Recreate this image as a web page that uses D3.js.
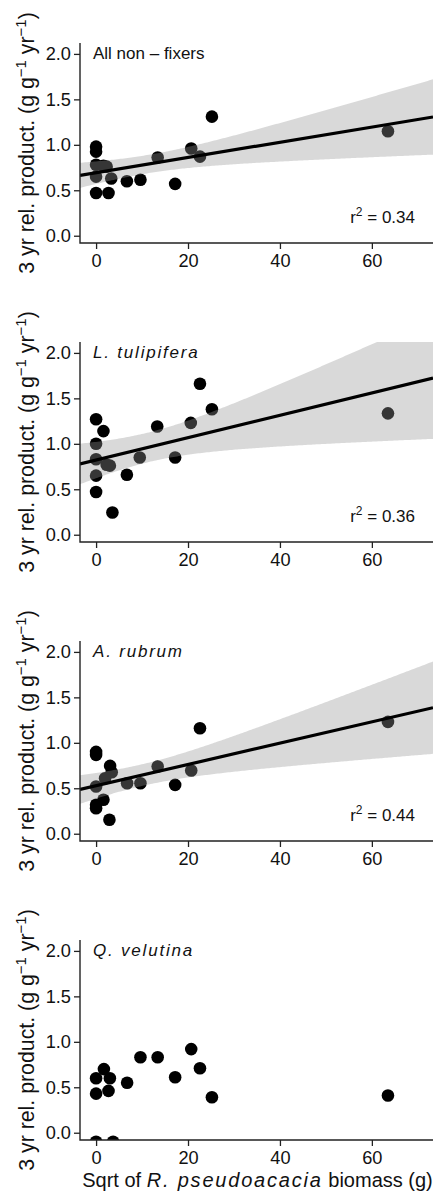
<!DOCTYPE html>
<html>
<head>
<meta charset="utf-8">
<script src="https://cdn.jsdelivr.net/npm/d3@7"></script>
<style>
  body { margin: 0; background: #fff; }
  svg { display: block; }
  text { font-family: "Liberation Sans", Arial, Helvetica, sans-serif; fill: #111; }
</style>
</head>
<body>
<script>
// Square root of R. pseudoacacia biomass (g) and 3-yr relative productivity per group
const sqrtBiomassAll = [0, 0, 0, 0, 0, 1.6, 2.3, 2.7, 3.3, 6.7, 9.65, 13.4, 17.2, 20.7, 22.6, 25.2, 63.5];
const productAll     = [0.98, 0.925, 0.78, 0.65, 0.47, 0.77, 0.76, 0.47, 0.63, 0.60, 0.615, 0.86, 0.57, 0.96, 0.87, 1.31, 1.15];

const sqrtBiomassTulip = [0, 1.6, 0, 0, 2.3, 3.0, 0, 6.7, 9.5, 0, 3.55, 13.3, 17.2, 20.6, 22.6, 25.2, 63.5];
const productTulip     = [1.27, 1.14, 1.0, 0.83, 0.77, 0.76, 0.65, 0.66, 0.85, 0.47, 0.245, 1.19, 0.85, 1.23, 1.66, 1.38, 1.335];

const sqrtBiomassRubrum = [0, 0, 0, 0, 0, 1.6, 1.96, 2.9, 3.05, 3.4, 6.75, 9.65, 13.4, 17.2, 20.7, 22.6, 63.5];
const productRubrum     = [0.90, 0.867, 0.52, 0.318, 0.28, 0.373, 0.61, 0.154, 0.746, 0.677, 0.556, 0.556, 0.74, 0.537, 0.695, 1.16, 1.23];

const sqrtBiomassVelutina = [0, 0, 0, 1.7, 3.0, 2.7, 3.7, 6.75, 9.65, 13.4, 17.2, 20.7, 22.6, 25.2, 63.5];
const productVelutina     = [0.60, 0.43, -0.10, 0.70, 0.60, 0.46, -0.10, 0.55, 0.83, 0.83, 0.61, 0.92, 0.71, 0.39, 0.41];

const panelTitles = ["All non \u2013 fixers", "L. tulipifera", "A. rubrum", "Q. velutina"];
const titleItalic = [false, true, true, true];
const r2Labels    = ["0.34", "0.36", "0.44", null];
const showFit     = [true, true, true, false];

const xTicks = [0, 20, 40, 60];
const yTicks = [0, 0.5, 1.0, 1.5, 2.0];
const xTitleParts = [["Sqrt of ", false], ["R. pseudoacacia", true], [" biomass (g)", false]];

const panels = [
  [sqrtBiomassAll, productAll],
  [sqrtBiomassTulip, productTulip],
  [sqrtBiomassRubrum, productRubrum],
  [sqrtBiomassVelutina, productVelutina]
];

const W = 442, H = 1192;
const plotLeft = 80, plotRight = 433, plotH = 200, firstTop = 43, panelStep = 299;

const svg = d3.select("body").append("svg").attr("width", W).attr("height", H);

// two-sided 95% t quantiles by degrees of freedom
const tTable = {10: 2.228, 11: 2.201, 12: 2.179, 13: 2.160, 14: 2.145, 15: 2.131, 16: 2.120, 17: 2.110, 18: 2.101};

function olsFit(xs, ys) {
  const n = xs.length;
  const mx = d3.mean(xs), my = d3.mean(ys);
  let sxx = 0, sxy = 0, syy = 0;
  for (let i = 0; i < n; i++) {
    sxx += (xs[i] - mx) ** 2;
    sxy += (xs[i] - mx) * (ys[i] - my);
    syy += (ys[i] - my) ** 2;
  }
  const b = sxy / sxx, a = my - b * mx;
  const s = Math.sqrt((syy - b * sxy) / (n - 2));
  const t = tTable[n - 2] || 2.0;
  return {
    predict: x => a + b * x,
    half: x => t * s * Math.sqrt(1 / n + (x - mx) ** 2 / sxx)
  };
}

panels.forEach(([xs, ys], i) => {
  const top = firstTop + i * panelStep;
  const bottom = top + plotH;
  const x = d3.scaleLinear().domain([-3.5, 73.3]).range([plotLeft, plotRight]);
  const y = d3.scaleLinear().domain([-0.08, 2.12]).range([bottom, top]);

  const g = svg.append("g");
  const clipId = "clip" + i;
  g.append("clipPath").attr("id", clipId)
    .append("rect").attr("x", plotLeft).attr("y", top)
    .attr("width", plotRight - plotLeft).attr("height", plotH);

  const plot = g.append("g").attr("clip-path", `url(#${clipId})`);

  // points
  plot.selectAll("circle").data(xs.map((v, k) => [v, ys[k]])).join("circle")
    .attr("cx", d => x(d[0])).attr("cy", d => y(d[1])).attr("r", 6.3)
    .attr("fill", "#000");

  if (showFit[i]) {
    const fit = olsFit(xs, ys);
    const grid = d3.range(0, 201).map(k => -3.5 + k * (76.8 / 200));
    const area = d3.area()
      .x(d => x(d))
      .y0(d => y(fit.predict(d) - fit.half(d)))
      .y1(d => y(fit.predict(d) + fit.half(d)));
    plot.append("path").attr("d", area(grid))
      .attr("fill", "rgb(150,150,150)").attr("fill-opacity", 0.36);
    plot.append("line")
      .attr("x1", x(-3.5)).attr("y1", y(fit.predict(-3.5)))
      .attr("x2", x(73.3)).attr("y2", y(fit.predict(73.3)))
      .attr("stroke", "#000").attr("stroke-width", 3.2);
  }

  // axes
  const yAxis = d3.axisLeft(y).tickValues(yTicks).tickFormat(d3.format(".1f")).tickSize(6).tickPadding(3);
  const xAxis = d3.axisBottom(x).tickValues(xTicks).tickSize(6).tickPadding(5);
  const ya = g.append("g").attr("transform", `translate(${plotLeft},0)`).call(yAxis);
  const xa = g.append("g").attr("transform", `translate(0,${bottom})`).call(xAxis);
  [ya, xa].forEach(a => {
    a.select(".domain").remove();
    a.selectAll("line").attr("stroke", "#222").attr("stroke-width", 1.3);
    a.selectAll("text").attr("font-size", 18.2).attr("fill", "#111")
      .attr("font-family", "Liberation Sans, Arial, sans-serif");
  });
  // L-shaped frame
  g.append("path")
    .attr("d", `M${plotLeft},${top}V${bottom}H${plotRight}`)
    .attr("fill", "none").attr("stroke", "#222").attr("stroke-width", 1.4);

  // panel title
  g.append("text")
    .attr("x", 93).attr("y", top + 16)
    .attr("font-size", 17)
    .attr("font-style", titleItalic[i] ? "italic" : "normal")
    .attr("letter-spacing", titleItalic[i] ? 1.8 : 0)
    .text(panelTitles[i]);

  // r-squared
  if (r2Labels[i]) {
    const t = g.append("text").attr("x", 415).attr("y", top + 180)
      .attr("text-anchor", "end").attr("font-size", 17);
    t.append("tspan").text("r");
    t.append("tspan").attr("dy", -7).attr("font-size", 12).text("2");
    t.append("tspan").attr("dy", 7).text(" = " + r2Labels[i]);
  }

  // y axis title
  const cy = (top + bottom) / 2;
  const yt = g.append("text")
    .attr("transform", `translate(34,${cy}) rotate(-90)`)
    .attr("text-anchor", "middle").attr("font-size", 21.3);
  yt.append("tspan").text("3 yr rel. product. (g g");
  yt.append("tspan").attr("dy", -8.5).attr("font-size", 15).text("\u22121");
  yt.append("tspan").attr("dy", 8.5).text(" yr");
  yt.append("tspan").attr("dy", -8.5).attr("font-size", 15).text("\u22121");
  yt.append("tspan").attr("dy", 8.5).text(")");

  if (i === panels.length - 1) {
    const xt = g.append("text").attr("x", (plotLeft + plotRight) / 2 + 1).attr("y", bottom + 47)
      .attr("text-anchor", "middle").attr("font-size", 20);
    xTitleParts.forEach(([s, it]) => {
      xt.append("tspan").attr("font-style", it ? "italic" : "normal")
        .attr("letter-spacing", it ? 1.8 : 0).text(s);
    });
  }
});
</script>
</body>
</html>
